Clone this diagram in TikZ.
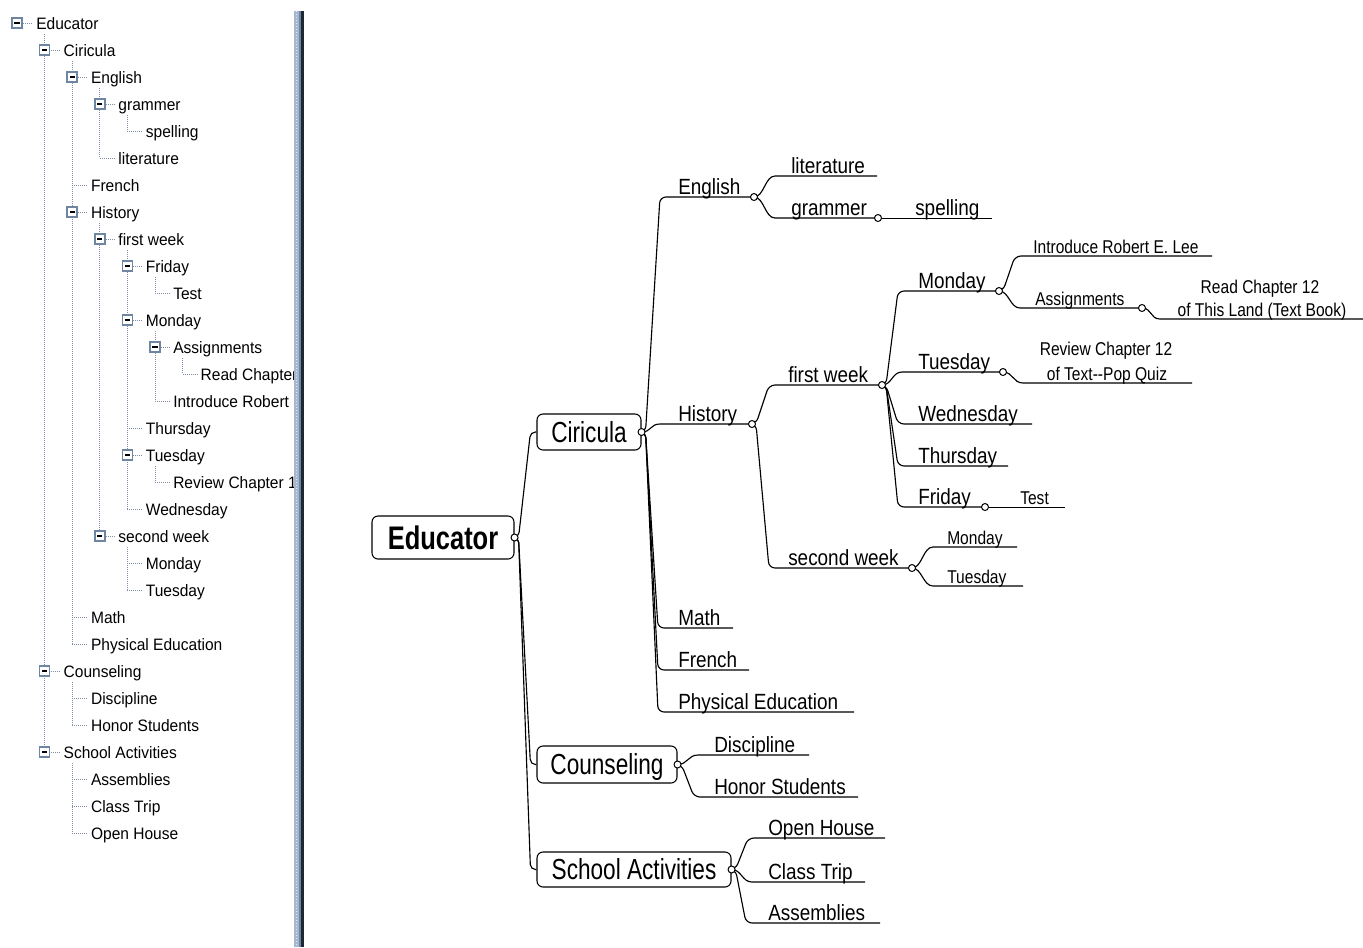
\documentclass[tikz,border=0pt]{standalone}
\usepackage{fontspec}
\setmainfont{Liberation Sans}
\newfontfamily\treefont{Liberation Sans}[FakeStretch=0.94]
\newfontfamily\labelfont{Liberation Sans}[FakeStretch=0.86]
\newfontfamily\smallfont{Liberation Sans}[FakeStretch=0.84]
\newfontfamily\boxfont{Liberation Sans}[FakeStretch=0.78]

\newdimen\pxu \pxu=0.75pt

\definecolor{treedot}{HTML}{7D8EA6}
\definecolor{togglerim}{HTML}{6F86A3}
\definecolor{barlight}{HTML}{A6B8CE}
\definecolor{barmid}{HTML}{6D84A2}
\definecolor{bardark}{HTML}{1E2734}

\pgfdeclarelayer{paper}
\pgfdeclarelayer{wires}
\pgfsetlayers{paper,wires,main}

\tikzset{
  treetext/.style={anchor=base west, inner sep=0pt, font=\treefont\fontsize{12.4}{14}\selectfont},
  treeline/.style={treedot, line width=0.75pt, dash pattern=on 0.75pt off 0.75pt},
  toggle/.style={draw=togglerim, fill=white, line width=1.1pt, minimum size=10\pxu, inner sep=0pt,
    path picture={\draw[black, line width=1.1pt]
      ([xshift=-2.6\pxu]path picture bounding box.center) -- ([xshift=2.6\pxu]path picture bounding box.center);}},
  topic/.style={anchor=base west, inner sep=0pt, font=\labelfont\fontsize{16.5}{18}\selectfont},
  subtopic/.style={anchor=base west, inner sep=0pt, font=\smallfont\fontsize{13.9}{16}\selectfont},
  note/.style={anchor=base, inner sep=0pt, font=\smallfont\fontsize{13.9}{16}\selectfont},
  mainbox/.style={draw, fill=white, rounded corners=4.5pt, line width=0.8pt, inner sep=0pt,
    text height=15.6pt, text depth=0pt, font=\boxfont\fontsize{21.75}{24}\selectfont},
  rootbox/.style={mainbox, text height=17.5pt, font=\boxfont\bfseries\fontsize{24.5}{28}\selectfont},
  knob/.style={circle, draw, fill=white, line width=0.75pt, inner sep=0pt, minimum size=7\pxu},
  link/.style={line width=0.85pt},
  straightlink/.style={line width=0.72pt},
}

% tree view rows: name, level, row, text
\newcommand\trow[4]{%
  \draw[treeline] ({17+27.6*#2},{23+27*#3}) -- ({33+27.4*#2},{23+27*#3});
  \node[treetext] (#1) at ({36+27.4*#2},{29+27*#3}) {#4};}
% expand/collapse button: name, level, row
\newcommand\ttoggle[3]{\node[toggle] (#1) at ({17+27.6*#2},{23+27*#3}) {};}
% sibling line: child level, parent row, last child row
\newcommand\tdrop[3]{\draw[treeline] ({17+27.6*#1},{34+27*#2}) -- ({17+27.6*#1},{23+27*#3});}

% map topics: name, style, line start x, line end x, line y, text x, text
\newcommand\leaf[7]{%
  \coordinate (#1-s) at (#3,#5);
  \coordinate (#1-e) at (#4,#5);
  \node[#2] (#1) at (#6,#5-2.5) {#7};}
% connectors
\newcommand\bend[2]{\draw[link, rounded corners=4.5pt] (#1) -- ++(4,0) -- (#2-s) -- (#2-e);}
\newcommand\swing[2]{\draw[link] (#1) .. controls +(10,0) and +(-10,0) .. (#2-s) -- (#2-e);}
\newcommand\run[2]{\draw[straightlink] (#1) -- (#2-e);}

\begin{document}
\begin{tikzpicture}[x=0.75pt, y=-0.75pt]
\begin{pgfonlayer}{paper}
  \fill[white] (0,0) rectangle (1363,947);
\end{pgfonlayer}
\useasboundingbox (0,0) rectangle (1363,947);

% ---------------- tree view ----------------
\begin{scope}
  \clip (0,0) rectangle (294,947);
  \tdrop{1}{0}{27}
  \tdrop{2}{1}{23}
  \tdrop{3}{2}{5}
  \tdrop{4}{3}{4}
  \tdrop{3}{7}{19}
  \tdrop{4}{8}{18}
  \tdrop{5}{9}{10}
  \tdrop{5}{11}{14}
  \tdrop{6}{12}{13}
  \tdrop{5}{16}{17}
  \tdrop{4}{19}{21}
  \tdrop{2}{24}{26}
  \tdrop{2}{27}{30}

  \trow{tEdu}{0}{0}{Educator}
  \trow{tCir}{1}{1}{Ciricula}
  \trow{tEng}{2}{2}{English}
  \trow{tGra}{3}{3}{grammer}
  \trow{tSpe}{4}{4}{spelling}
  \trow{tLit}{3}{5}{literature}
  \trow{tFre}{2}{6}{French}
  \trow{tHis}{2}{7}{History}
  \trow{tFw}{3}{8}{first week}
  \trow{tFri}{4}{9}{Friday}
  \trow{tTest}{5}{10}{Test}
  \trow{tMon}{4}{11}{Monday}
  \trow{tAsg}{5}{12}{Assignments}
  \trow{tRead}{6}{13}{Read Chapter}
  \trow{tIntro}{5}{14}{Introduce Robert}
  \trow{tThu}{4}{15}{Thursday}
  \trow{tTue}{4}{16}{Tuesday}
  \trow{tRev}{5}{17}{Review Chapter 1}
  \trow{tWed}{4}{18}{Wednesday}
  \trow{tSw}{3}{19}{second week}
  \trow{tMonB}{4}{20}{Monday}
  \trow{tTueB}{4}{21}{Tuesday}
  \trow{tMath}{2}{22}{Math}
  \trow{tPE}{2}{23}{Physical Education}
  \trow{tCou}{1}{24}{Counseling}
  \trow{tDis}{2}{25}{Discipline}
  \trow{tHon}{2}{26}{Honor Students}
  \trow{tSch}{1}{27}{School Activities}
  \trow{tAss}{2}{28}{Assemblies}
  \trow{tCla}{2}{29}{Class Trip}
  \trow{tOpe}{2}{30}{Open House}

  \ttoggle{gEdu}{0}{0}
  \ttoggle{gCir}{1}{1}
  \ttoggle{gEng}{2}{2}
  \ttoggle{gGra}{3}{3}
  \ttoggle{gHis}{2}{7}
  \ttoggle{gFw}{3}{8}
  \ttoggle{gFri}{4}{9}
  \ttoggle{gMon}{4}{11}
  \ttoggle{gAsg}{5}{12}
  \ttoggle{gTue}{4}{16}
  \ttoggle{gSw}{3}{19}
  \ttoggle{gCou}{1}{24}
  \ttoggle{gSch}{1}{27}
\end{scope}

% splitter bar
\fill[barlight] (294,11) rectangle (300,947);
\fill[barmid] (299,11) rectangle (301,947);
\fill[bardark] (301,11) rectangle (304,947);
\draw[white!70!barlight, line width=0.75pt, dash pattern=on 0.75pt off 1.5pt] (296.5,11) -- (296.5,947);

% ---------------- mind map ----------------
\node[rootbox, minimum width=142\pxu, minimum height=43\pxu] (edu) at (443,537.5) {Educator};
\node[mainbox, minimum width=104\pxu, minimum height=36\pxu] (cir) at (589,432) {Ciricula};
\node[mainbox, minimum width=140\pxu, minimum height=37\pxu] (cou) at (607,764.5) {Counseling};
\node[mainbox, minimum width=194\pxu, minimum height=35\pxu] (sch) at (634,869.5) {School Activities};

\leaf{eng}{topic}{660}{754}{197}{678}{English}
\leaf{lit}{topic}{775}{877}{176}{791}{literature}
\leaf{gra}{topic}{775}{878}{218}{791}{grammer}
\leaf{spe}{topic}{878}{992}{218}{915}{spelling}
\leaf{his}{topic}{660}{752}{424}{678}{History}
\leaf{fw}{topic}{769}{882}{385}{788}{first week}
\leaf{sw}{topic}{769}{912}{568}{788}{second week}
\leaf{mon}{topic}{898}{999}{291}{918}{Monday}
\leaf{tue}{topic}{902}{1003}{372}{918}{Tuesday}
\leaf{wed}{topic}{898}{1032}{424}{918}{Wednesday}
\leaf{thu}{topic}{898}{1008}{466}{918}{Thursday}
\leaf{fri}{topic}{898}{985}{507}{918}{Friday}
\leaf{test}{subtopic}{985}{1065}{507}{1020}{Test}
\leaf{intro}{subtopic}{1015}{1212}{256}{1033}{Introduce Robert E. Lee}
\leaf{asg}{subtopic}{1020}{1142}{308}{1035}{Assignments}
\leaf{monb}{subtopic}{933}{1017}{547}{947}{Monday}
\leaf{tueb}{subtopic}{933}{1023}{586}{947}{Tuesday}
\leaf{math}{topic}{658}{733}{628}{678}{Math}
\leaf{fre}{topic}{658}{749}{670}{678}{French}
\leaf{pe}{topic}{658}{854}{712}{678}{Physical Education}
\leaf{dis}{topic}{698}{809}{755}{714}{Discipline}
\leaf{hon}{topic}{694}{858}{797}{714}{Honor Students}
\leaf{oh}{topic}{748}{885}{838}{768}{Open House}
\leaf{ct}{topic}{752}{865}{882}{768}{Class Trip}
\leaf{as}{topic}{746}{880}{923}{768}{Assemblies}

% two-line notes
\coordinate (read-s) at (1160,319);
\coordinate (read-e) at (1363,319);
\node[note] (read1) at (1260,293) {Read Chapter 12};
\node[note] (read2) at (1262,316) {of This Land (Text Book)};
\coordinate (rev-s) at (1023,383);
\coordinate (rev-e) at (1192,383);
\node[note] (rev1) at (1106,355) {Review Chapter 12};
\node[note] (rev2) at (1107,380) {of Text\mbox{-}\mbox{-}Pop Quiz};

\begin{pgfonlayer}{wires}
  % root to main topics
  \draw[link, rounded corners=3.75pt] (edu.east) -- ++(4,0) -- ([xshift=-4.5pt]cir.west) -- (cir.west);
  \draw[link, rounded corners=3.75pt] (edu.east) -- ++(4,0) -- ([xshift=-4.5pt]cou.west) -- (cou.west);
  \draw[link, rounded corners=3.75pt] (edu.east) -- ++(4,0) -- ([xshift=-4.5pt]sch.west) -- (sch.west);
  % Ciricula
  \bend{cir.east}{eng}
  \swing{cir.east}{his}
  \bend{cir.east}{math}
  \bend{cir.east}{fre}
  \bend{cir.east}{pe}
  % English
  \swing{eng-e}{lit}
  \swing{eng-e}{gra}
  \run{gra-e}{spe}
  % History
  \bend{his-e}{fw}
  \bend{his-e}{sw}
  \bend{fw-e}{mon}
  \swing{fw-e}{tue}
  \bend{fw-e}{wed}
  \bend{fw-e}{thu}
  \bend{fw-e}{fri}
  \run{fri-e}{test}
  \bend{mon-e}{intro}
  \swing{mon-e}{asg}
  \swing{asg-e}{read}
  \swing{tue-e}{rev}
  \swing{sw-e}{monb}
  \swing{sw-e}{tueb}
  % Counseling
  \swing{cou.east}{dis}
  \bend{cou.east}{hon}
  % School Activities
  \bend{sch.east}{oh}
  \swing{sch.east}{ct}
  \bend{sch.east}{as}
\end{pgfonlayer}

% branch knobs
\node[knob] (eduK) at (edu.east) {};
\node[knob] (cirK) at (cir.east) {};
\node[knob] (couK) at (cou.east) {};
\node[knob] (schK) at (sch.east) {};
\node[knob] (engK) at (eng-e) {};
\node[knob] (graK) at (gra-e) {};
\node[knob] (hisK) at (his-e) {};
\node[knob] (fwK) at (fw-e) {};
\node[knob] (swK) at (sw-e) {};
\node[knob] (monK) at (mon-e) {};
\node[knob] (asgK) at (asg-e) {};
\node[knob] (tueK) at (tue-e) {};
\node[knob] (friK) at (fri-e) {};
\end{tikzpicture}
\end{document}
